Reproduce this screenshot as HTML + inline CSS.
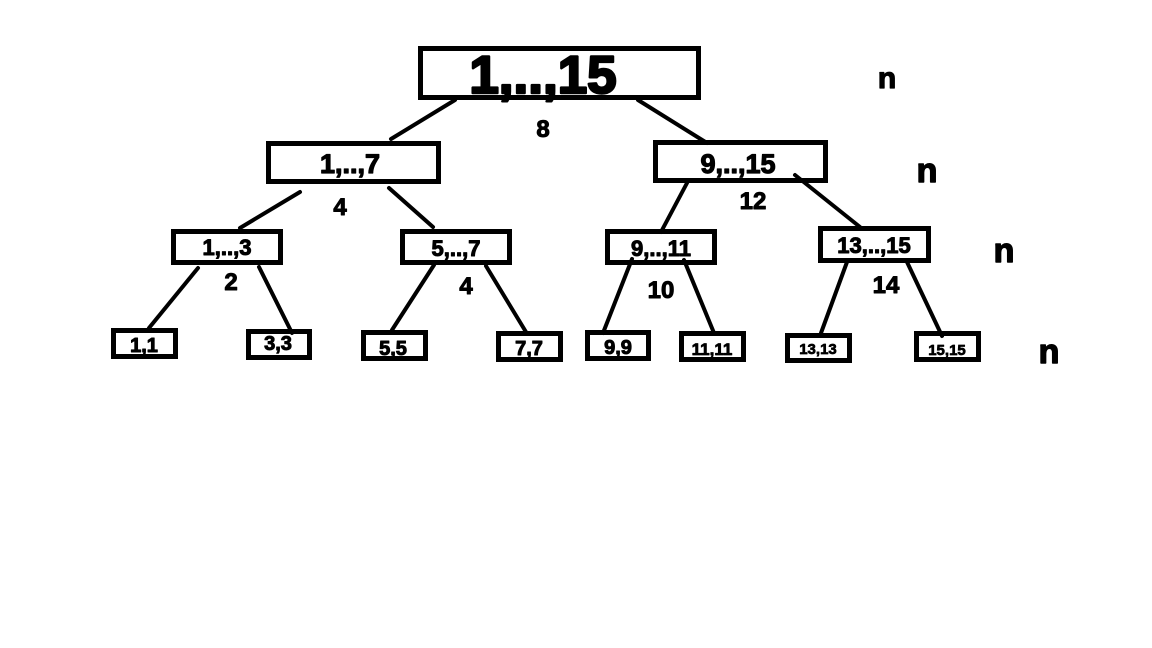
<!DOCTYPE html>
<html><head><meta charset="utf-8"><style>html,body{margin:0;padding:0;background:#fff}svg{display:block}text{font-family:"Liberation Sans",Arial,sans-serif;font-weight:bold;stroke:#000;stroke-linejoin:round}</style></head><body>
<svg width="1152" height="648" viewBox="0 0 1152 648" xmlns="http://www.w3.org/2000/svg" fill="#000">
<rect width="1152" height="648" fill="#fff"/>
<g stroke="#000" stroke-width="5" fill="none">
<rect x="420.5" y="48.5" width="278" height="49"/>
<rect x="268.5" y="143.5" width="170" height="38"/>
<rect x="655.5" y="142.5" width="170" height="38"/>
<rect x="173.5" y="231.5" width="107" height="31"/>
<rect x="402.5" y="231.5" width="107" height="31"/>
<rect x="607.5" y="231.5" width="107" height="31"/>
<rect x="820.5" y="228.5" width="108" height="32"/>
<rect x="113.5" y="330.5" width="62" height="26"/>
<rect x="248.5" y="331.5" width="61" height="26"/>
<rect x="363.5" y="332.5" width="62" height="26"/>
<rect x="498.5" y="333.5" width="62" height="26"/>
<rect x="587.5" y="332.5" width="61" height="26"/>
<rect x="681.5" y="333.5" width="62" height="26"/>
<rect x="787.5" y="335.5" width="62" height="25"/>
<rect x="916.5" y="333.5" width="62" height="26"/>
</g>
<g stroke="#000" stroke-width="4" stroke-linecap="round">
<line x1="455" y1="100" x2="391" y2="139"/>
<line x1="638" y1="100" x2="707" y2="143"/>
<line x1="300" y1="192" x2="240" y2="228"/>
<line x1="389" y1="188" x2="433" y2="227"/>
<line x1="687" y1="183" x2="661" y2="232"/>
<line x1="795" y1="175" x2="860" y2="227"/>
<line x1="198" y1="268" x2="149" y2="328"/>
<line x1="259" y1="267" x2="292" y2="333"/>
<line x1="434" y1="265" x2="392" y2="330"/>
<line x1="486" y1="266" x2="526" y2="332"/>
<line x1="632" y1="259" x2="603" y2="333"/>
<line x1="684" y1="260" x2="714" y2="333"/>
<line x1="847" y1="262" x2="821" y2="333"/>
<line x1="907" y1="262" x2="942" y2="336"/>
</g>
<g text-anchor="middle">
<text x="543" y="93" font-size="53" stroke-width="2.5">1,..,15</text>
<text x="350" y="173" font-size="27" stroke-width="1.2">1,..,7</text>
<text x="738" y="173" font-size="27" stroke-width="1.2">9,..,15</text>
<text x="227" y="255" font-size="22" stroke-width="1">1,..,3</text>
<text x="456" y="256" font-size="22" stroke-width="1">5,..,7</text>
<text x="661" y="256" font-size="22" stroke-width="1">9,..,11</text>
<text x="874" y="253" font-size="22" stroke-width="1">13,..,15</text>
<text x="144" y="352" font-size="20" stroke-width="1">1,1</text>
<text x="278" y="350" font-size="20" stroke-width="1">3,3</text>
<text x="393" y="355" font-size="20" stroke-width="1">5,5</text>
<text x="529" y="355" font-size="20" stroke-width="1">7,7</text>
<text x="618" y="354" font-size="20" stroke-width="1">9,9</text>
<text x="712" y="355" font-size="17" stroke-width="0.8">11,11</text>
<text x="818" y="354" font-size="15" stroke-width="0.7">13,13</text>
<text x="947" y="355" font-size="15" stroke-width="0.7">15,15</text>
<text x="543" y="137" font-size="24" stroke-width="1">8</text>
<text x="340" y="215" font-size="24" stroke-width="1">4</text>
<text x="753" y="209" font-size="24" stroke-width="1">12</text>
<text x="231" y="290" font-size="24" stroke-width="1">2</text>
<text x="466" y="294" font-size="24" stroke-width="1">4</text>
<text x="661" y="298" font-size="24" stroke-width="1">10</text>
<text x="886" y="293" font-size="24" stroke-width="1">14</text>
<text x="887" y="88" font-size="30" stroke-width="1.2">n</text>
<text x="927" y="182" font-size="34" stroke-width="1.4">n</text>
<text x="1004" y="262" font-size="34" stroke-width="1.4">n</text>
<text x="1049" y="363" font-size="34" stroke-width="1.4">n</text>
</g>
</svg>
</body></html>
